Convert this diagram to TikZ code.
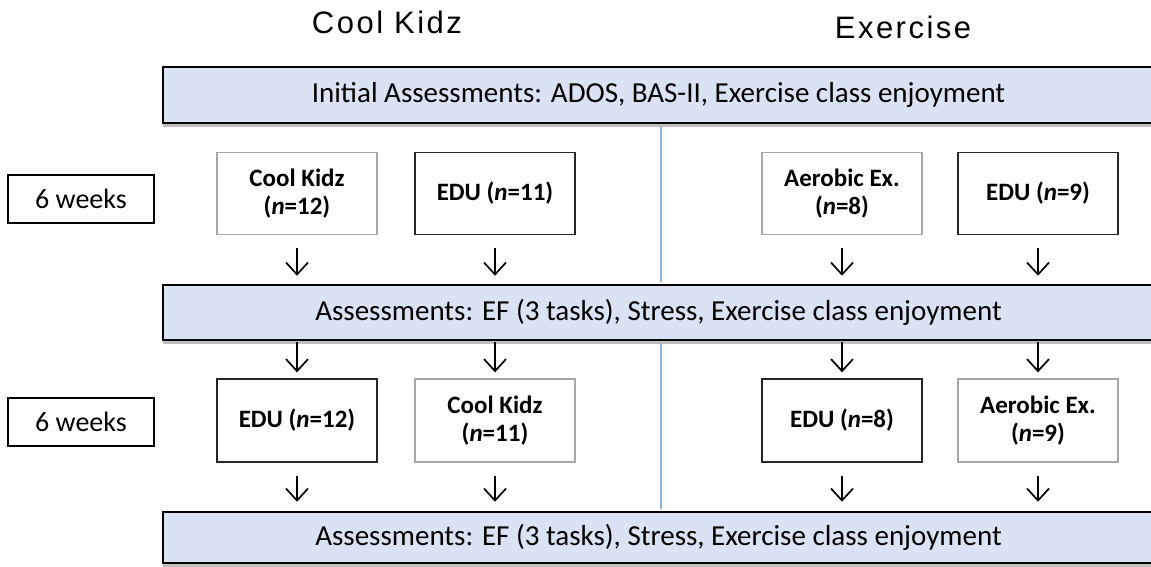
\documentclass[tikz,border=0pt]{standalone}
\usepackage{fontspec}
\setmainfont{Carlito}
\newfontfamily\titlefont[LetterSpace=8]{Liberation Sans}
\usetikzlibrary{arrows.meta,shadows}
\definecolor{bannerfill}{HTML}{DAE3F3}
\definecolor{divider}{HTML}{8FB4E3}
\definecolor{lightborder}{HTML}{A6A6A6}
\tikzset{
  banner/.style={draw=black, line width=2.5pt, fill=bannerfill, inner sep=0pt,
    minimum width=991pt, font=\fontsize{29}{34}\selectfont,
    drop shadow={shadow xshift=0pt, shadow yshift=-4pt, fill=black, opacity=0.25}},
  titletext/.style={font=\titlefont\fontsize{31}{34}\selectfont, inner sep=0pt},
  weekbox/.style={draw=black, line width=1.5pt, minimum width=146pt, minimum height=48pt,
    inner sep=0pt, font=\fontsize{28}{32}\selectfont},
  grpbox/.style={line width=1.3pt, minimum width=160pt, minimum height=82pt, inner sep=0pt,
    align=center, font=\bfseries\fontsize{25}{28}\selectfont, fill=white},
  lightbox/.style={grpbox, draw=lightborder},
  darkbox/.style={grpbox, draw=black!85},
  flow/.style={line width=1.7pt, -{Straight Barb[length=12pt,width=22pt]}},
  divline/.style={draw=divider, line width=1.5pt}
}
\begin{document}
\begin{tikzpicture}[x=1pt,y=-1pt]
\useasboundingbox (0,0) rectangle (1151,566);
% titles
\node[titletext] (t1) at (387,22) {Cool Kidz};
\node[titletext] (t2) at (903,27) {Exercise};
% banners
\node[banner, minimum height=56pt] (b1) at (658.5,95) {Initial Assessments: ADOS, BAS-II, Exercise class enjoyment};
\node[banner, minimum height=55pt] (b2) at (658.5,312.5) {Assessments: EF (3 tasks), Stress, Exercise class enjoyment};
\node[banner, minimum height=51pt] (b3) at (658.5,537.5) {Assessments: EF (3 tasks), Stress, Exercise class enjoyment};
% divider
\coordinate (dv) at (661,0);
\draw[divline, shorten <=2pt, shorten >=1.5pt] (dv |- b1.south) -- (dv |- b2.north);
\draw[divline, shorten <=2pt, shorten >=1.5pt] (dv |- b2.south) -- (dv |- b3.north);
% week boxes
\node[weekbox] (w1) at (81,199) {6 weeks};
\node[weekbox] (w2) at (81,422) {6 weeks};
% row 1
\node[lightbox] (ck1) at (297,193.5) {Cool Kidz\\(\textit{n}=12)};
\node[darkbox] (edu1) at (495,193.5) {EDU (\textit{n}=11)};
\node[lightbox] (ae1) at (842,193.5) {Aerobic Ex.\\(\textit{n}=8)};
\node[darkbox] (edu2) at (1038,193.5) {EDU (\textit{n}=9)};
% row 2
\node[darkbox, minimum height=83pt] (edu3) at (297,420.5) {EDU (\textit{n}=12)};
\node[lightbox, minimum height=83pt] (ck2) at (495,420.5) {Cool Kidz\\(\textit{n}=11)};
\node[darkbox, minimum height=83pt] (edu4) at (842,420.5) {EDU (\textit{n}=8)};
\node[lightbox, minimum height=83pt] (ae2) at (1038,420.5) {Aerobic Ex.\\(\textit{n}=9)};
% arrows row 1 -> banner 2
\foreach \n in {ck1,edu1,ae1,edu2}{
  \draw[flow, shorten <=13pt, shorten >=8pt] (\n.south) -- (\n.south |- b2.north);
}
% arrows banner 2 -> row 2
\foreach \n in {edu3,ck2,edu4,ae2}{
  \draw[flow, shorten <=1pt, shorten >=6pt] (\n.north |- b2.south) -- (\n.north);
}
% arrows row 2 -> banner 3
\foreach \n in {edu3,ck2,edu4,ae2}{
  \draw[flow, shorten <=13pt, shorten >=9pt] (\n.south) -- (\n.south |- b3.north);
}
\end{tikzpicture}
\end{document}
